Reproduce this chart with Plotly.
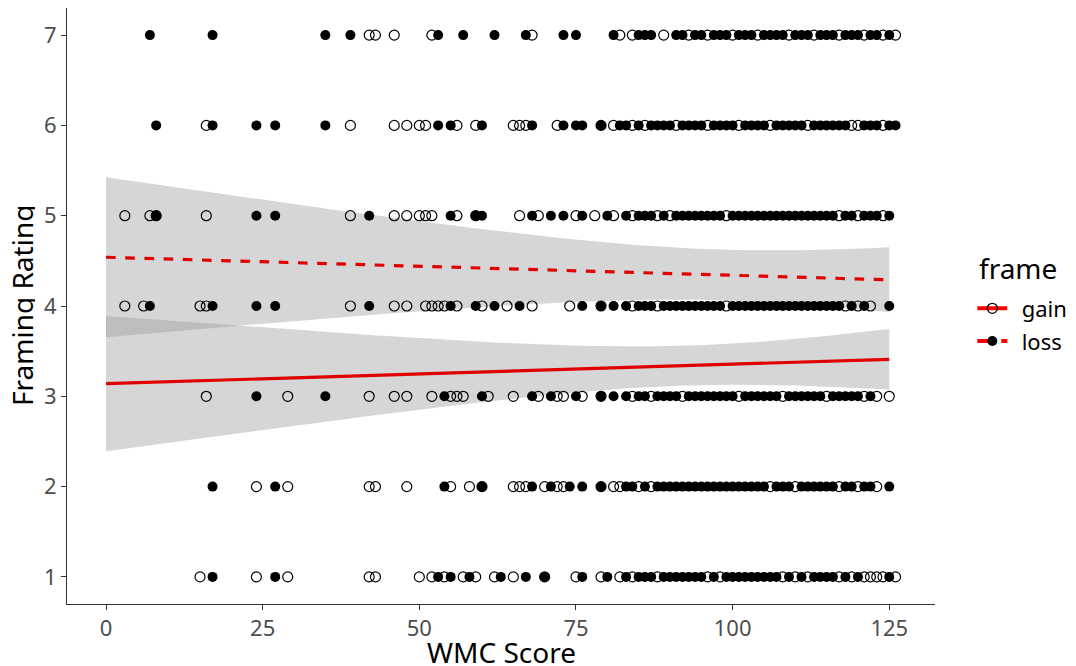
import numpy as np
import plotly.graph_objects as go

# ---- data: WMC scores at each rating, by frame ----
gain_by_rating = {
    7: [42, 43, 46, 52, 68, 82, 84, 89, 93, 96, 100, 104, 109, 113, 117, 121, 124, 126],
    6: [16, 39, 46, 48, 50, 51, 56, 59, 65, 66, 67, 72, 79, 81, 84, 86, 91, 96, 101, 106, 112, 119, 120, 124],
    5: [3, 7, 8, 16, 39, 46, 48, 50, 51, 52, 56, 59, 66, 69, 75, 78, 81, 84, 88, 90, 99, 117, 120, 124],
    4: [3, 6, 15, 16, 39, 46, 48, 51, 52, 53, 54, 56, 60, 64, 68, 74, 79, 84, 88, 99, 118, 120, 122],
    3: [16, 29, 42, 46, 48, 52, 55, 56, 57, 61, 65, 69, 72, 73, 76, 79, 84, 87, 92, 101, 108, 115, 121, 123, 125],
    2: [24, 29, 42, 43, 48, 55, 58, 60, 65, 66, 67, 70, 72, 73, 79, 81, 82, 85, 87, 106, 110, 117, 120, 123],
    1: [15, 24, 29, 42, 43, 50, 52, 54, 57, 59, 62, 65, 70, 75, 79, 82, 84, 88, 96, 98, 108, 110, 112, 117, 119, 121, 122, 123, 124, 126],
}
loss_by_rating = {
    7: [7, 17, 35, 39, 53, 57, 62, 67, 73, 75, 81, 85, 86, 87, 91, 92, 94, 95, 97, 98, 99, 101, 102, 103, 105, 106, 107, 108, 110, 111, 112, 114, 115, 116, 118, 119, 120, 122, 123, 125],
    6: [8, 17, 24, 27, 35, 53, 55, 60, 68, 73, 75, 76, 79, 82, 83, 85, 87, 88, 89, 90, 92, 93, 94, 95, 97, 98, 99, 100, 102, 103, 104, 105, 107, 108, 109, 110, 111, 113, 114, 115, 116, 117, 118, 121, 122, 123, 125, 126],
    5: [8, 24, 27, 42, 55, 59, 60, 68, 71, 73, 76, 80, 83, 85, 86, 87, 89, 91, 92, 93, 94, 95, 96, 97, 98, 100, 101, 102, 103, 104, 105, 106, 107, 108, 109, 110, 111, 112, 113, 114, 115, 116, 118, 119, 121, 122, 123, 125],
    4: [7, 17, 24, 27, 42, 55, 59, 62, 66, 76, 79, 81, 83, 85, 86, 87, 89, 90, 91, 92, 93, 94, 95, 96, 97, 98, 100, 101, 102, 103, 104, 105, 106, 107, 108, 109, 110, 111, 112, 113, 114, 115, 116, 117, 119, 121, 125],
    3: [24, 35, 54, 60, 68, 71, 75, 79, 81, 83, 85, 86, 88, 89, 90, 91, 93, 94, 95, 96, 97, 98, 99, 100, 102, 103, 104, 105, 106, 107, 109, 110, 111, 112, 113, 114, 116, 117, 118, 119, 120, 122],
    2: [17, 27, 54, 60, 68, 71, 74, 76, 79, 83, 84, 86, 88, 89, 90, 91, 92, 93, 94, 95, 96, 97, 98, 99, 100, 101, 102, 103, 104, 105, 107, 108, 109, 111, 112, 113, 114, 115, 116, 118, 119, 121, 122, 125],
    1: [17, 27, 53, 55, 58, 63, 67, 70, 76, 80, 83, 85, 86, 87, 89, 90, 91, 92, 93, 94, 95, 97, 99, 100, 101, 102, 103, 104, 105, 106, 107, 109, 111, 113, 114, 115, 116, 118, 120, 125],
}

# ---- fitted linear model: y at x=0 and x=125 ----
fit_x_range = [0, 125]
gain_fit = [3.14, 3.41]
loss_fit = [4.54, 4.29]
# confidence band: minimum half-width, x of minimum, curvature
gain_band = [0.22, 92.5, 6.0e-5]
loss_band = [0.28, 98.5, 7.27e-5]

x_ticks = [0, 25, 50, 75, 100, 125]
y_ticks = [1, 2, 3, 4, 5, 6, 7]
frame_names = ["gain", "loss"]

FONT = "Noto Sans"


def flatten(d):
    xs, ys = [], []
    for r, vals in d.items():
        xs += vals
        ys += [r] * len(vals)
    return xs, ys


gx, gy = flatten(gain_by_rating)
lx, ly = flatten(loss_by_rating)

xg = np.linspace(fit_x_range[0], fit_x_range[1], 120)


def line(fit):
    return fit[0] + (fit[1] - fit[0]) * (xg - fit_x_range[0]) / (fit_x_range[1] - fit_x_range[0])


def band(fit, b):
    c = line(fit)
    hw = np.sqrt(b[0] ** 2 + b[2] * (xg - b[1]) ** 2)
    return c - hw, c + hw


fig = go.Figure()
ribbon = "rgba(153,153,153,0.4)"
for fit, b in [(gain_fit, gain_band), (loss_fit, loss_band)]:
    lo, hi = band(fit, b)
    fig.add_trace(go.Scatter(x=np.concatenate([xg, xg[::-1]]), y=np.concatenate([hi, lo[::-1]]),
                             fill="toself", fillcolor=ribbon, line=dict(width=0),
                             mode="lines", hoverinfo="skip", showlegend=False))

fig.add_trace(go.Scatter(x=gx, y=gy, mode="markers", showlegend=False,
                         marker=dict(symbol="circle-open", size=10, color="black", line=dict(width=1.2))))
fig.add_trace(go.Scatter(x=lx, y=ly, mode="markers", showlegend=False,
                         marker=dict(symbol="circle", size=10, color="black", line=dict(width=0))))

fig.add_trace(go.Scatter(x=xg, y=line(gain_fit), mode="lines", showlegend=False,
                         line=dict(color="#e00000", width=3.2)))
fig.add_trace(go.Scatter(x=xg, y=line(loss_fit), mode="lines", showlegend=False,
                         line=dict(color="#e00000", width=3.2, dash="dash")))

# legend entries
pad = "\u00a0\u2009"
fig.add_trace(go.Scatter(x=[None], y=[None], mode="lines+markers", name=pad + frame_names[0],
                         legendgroup="gain",
                         line=dict(color="#ff0000", width=4),
                         marker=dict(symbol="circle-open", size=10, color="black", line=dict(width=1.3))))
fig.add_trace(go.Scatter(x=[None], y=[None], mode="lines+markers", name=pad + frame_names[1],
                         legendgroup="loss",
                         line=dict(color="#ff0000", width=4, dash="dash"),
                         marker=dict(symbol="circle", size=10, color="black")))

fig.update_layout(
    width=1076, height=666,
    margin=dict(l=59, r=149, t=0, b=70),
    plot_bgcolor="white", paper_bgcolor="white",
    font=dict(family=FONT, color="black"),
    legend=dict(font=dict(size=22),
                x=1.043, xanchor="left", y=0.531, yanchor="top",
                bgcolor="rgba(0,0,0,0)", itemwidth=30, tracegroupgap=1),
    annotations=[
        dict(text="WMC Score", xref="paper", yref="paper", x=0.5, y=0, xanchor="center",
             yanchor="middle", yshift=-48, height=26, valign="middle", showarrow=False,
             font=dict(size=28, color="black")),
        dict(text="Framing Rating", xref="paper", yref="paper", x=0, y=0.5, xanchor="center",
             yanchor="middle", xshift=-45, textangle=-90, height=26, valign="middle",
             showarrow=False, font=dict(size=28, color="black")),
        dict(text="frame", xref="paper", yref="paper", x=1.048, y=0.564, xanchor="left",
             yanchor="middle", showarrow=False, font=dict(size=28, color="black")),
    ],
)
fig.update_xaxes(range=[-6.23, 132.3], tickvals=x_ticks, ticks="outside", ticklen=5,
                 tickcolor="#333333", tickwidth=1.2, showline=True, linecolor="#333333", linewidth=1,
                 showgrid=False, zeroline=False, automargin=False,
                 tickfont=dict(size=22, color="#4d4d4d", family=FONT))
fig.update_yaxes(range=[0.70, 7.30], tickvals=y_ticks, ticks="outside", ticklen=5,
                 tickcolor="#333333", tickwidth=1.2, showline=True, linecolor="#333333", linewidth=1,
                 showgrid=False, zeroline=False, automargin=False,
                 tickfont=dict(size=22, color="#4d4d4d", family=FONT))

fig.write_html("out.html")
